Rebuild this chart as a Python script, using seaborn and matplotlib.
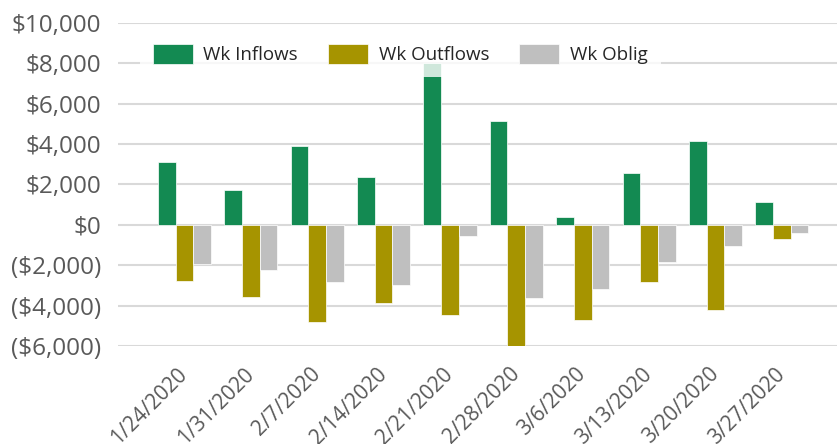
import matplotlib
matplotlib.use("Agg")
import matplotlib.pyplot as plt
import matplotlib.ticker as mticker
import numpy as np
import pandas as pd
import seaborn as sns

# data
dates = ["1/24/2020", "1/31/2020", "2/7/2020", "2/14/2020", "2/21/2020",
         "2/28/2020", "3/6/2020", "3/13/2020", "3/20/2020", "3/27/2020"]
wk_inflows = [3110, 1710, 3890, 2380, 8000, 5150, 370, 2580, 4140, 1130]
wk_outflows = [-2760, -3560, -4800, -3880, -4450, -6000, -4700, -2830, -4240, -720]
wk_oblig = [-1940, -2230, -2830, -2980, -560, -3630, -3180, -1840, -1050, -420]

series = ["Wk Inflows", "Wk Outflows", "Wk Oblig"]
colors = ["#138A52", "#A69400", "#BFBFBF"]

df = pd.DataFrame({"date": dates, "Wk Inflows": wk_inflows,
                   "Wk Outflows": wk_outflows, "Wk Oblig": wk_oblig})
long = df.melt(id_vars="date", var_name="series", value_name="value")

sns.set_theme(style="white")
plt.rcParams["font.family"] = ["Open Sans", "DejaVu Sans"]

fig = plt.figure(figsize=(8.38, 4.44), dpi=100)
ax = fig.add_axes([118 / 838, 1 - 346 / 444, 719 / 838, (346 - 23) / 444])

sns.barplot(data=long, x="date", y="value", hue="series", hue_order=series,
            palette=colors, order=dates, width=0.8, ax=ax,
            edgecolor="white", linewidth=0.5, saturation=1)

ax.set_ylim(-6000, 10000)
ax.set_xlim(-1.0, 9.83)
ax.yaxis.set_major_locator(mticker.MultipleLocator(2000))


def money(v, pos):
    if v < 0:
        return "(${:,.0f})".format(-v)
    return "${:,.0f}".format(v)


ax.yaxis.set_major_formatter(mticker.FuncFormatter(money))
ax.grid(axis="y", color="#D9D9D9", linewidth=1.5)
ax.set_axisbelow(True)
for s in ax.spines.values():
    s.set_visible(False)
ax.set_xlabel("")
ax.set_ylabel("")
ax.tick_params(axis="y", length=0, pad=12, labelsize=17.5, labelcolor="#595959")
ax.tick_params(axis="x", length=0, pad=18, labelsize=15, labelcolor="#595959")
for lbl in ax.get_xticklabels():
    lbl.set_rotation(45)
    lbl.set_ha("right")
    lbl.set_rotation_mode("anchor")
    lbl.set_va("center")

handles, labels = ax.get_legend_handles_labels()
ax.legend(handles, labels, ncol=3, loc="center",
          bbox_to_anchor=(400 / 838, 1 - 54 / 444), bbox_transform=fig.transFigure,
          fontsize=13.5, frameon=True, framealpha=0.8, edgecolor="none",
          facecolor="white", handlelength=2.15, handleheight=1.3,
          handletextpad=0.55, columnspacing=1.6, borderpad=0.7, fancybox=False)

fig.savefig("out.png", dpi=100)
